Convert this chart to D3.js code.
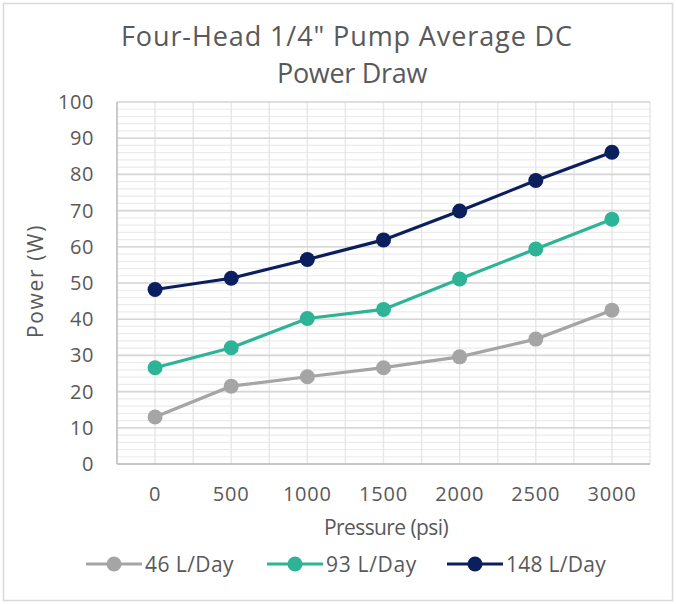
<!DOCTYPE html>
<html>
<head>
<meta charset="utf-8">
<script src="https://cdn.jsdelivr.net/npm/d3@7"></script>
<style>
  body { margin: 0; background: #fff; }
  text { font-family: "Open Sans", "Noto Sans", sans-serif; fill: #595959; }
</style>
</head>
<body>
<script>
// data
var pressures = ['0', '500', '1000', '1500', '2000', '2500', '3000'];
var seriesNames = ['46 L/Day', '93 L/Day', '148 L/Day'];
var seriesColors = ['#a5a5a5', '#2db395', '#0b1f5e'];
var flow46 = [13.0, 21.5, 24.1, 26.6, 29.6, 34.5, 42.5];
var flow93 = [26.6, 32.1, 40.2, 42.7, 51.1, 59.4, 67.6];
var flow148 = [48.2, 51.3, 56.5, 61.9, 69.9, 78.3, 86.1];
var yTicks = [0, 10, 20, 30, 40, 50, 60, 70, 80, 90, 100];

var allSeries = [flow46, flow93, flow148];

var width = 676, height = 604;
var plotLeft = 117, plotRight = 650, plotTop = 102, plotBottom = 464;

var svg = d3.select('body').append('svg').attr('width', width).attr('height', height);

// stretch letter spacing so a label spans roughly the same width as the original
function fit(sel, target) {
    var len = sel.node().getComputedTextLength();
    var n = sel.text().length;
    sel.style('letter-spacing', ((target - len) / n) + 'px');
}

svg.append('rect').attr('x', 3.5).attr('y', 3.5).attr('width', 669).attr('height', 597)
    .attr('fill', '#fff').attr('stroke', '#d9d9d9').attr('stroke-width', 1.5);

var x = d3.scaleBand().domain(pressures).range([plotLeft, plotRight]);
var y = d3.scaleLinear().domain([0, 100]).range([plotBottom, plotTop]);

// minor grid
var grid = svg.append('g');
grid.selectAll('.minor').data(d3.range(0, 101, 2)).enter().append('line')
    .attr('x1', plotLeft).attr('x2', plotRight)
    .attr('y1', function(d){ return y(d); }).attr('y2', function(d){ return y(d); })
    .attr('stroke', '#ebebeb').attr('stroke-width', 1.2);

// vertical grid at category centres and edges
var vlines = [];
pressures.forEach(function(p){ vlines.push(x(p)); vlines.push(x(p) + x.bandwidth()/2); });
vlines.push(plotRight);
grid.selectAll('.vert').data(vlines).enter().append('line')
    .attr('x1', function(d){ return d; }).attr('x2', function(d){ return d; })
    .attr('y1', plotTop).attr('y2', plotBottom)
    .attr('stroke', '#e6e6e6').attr('stroke-width', 1.4);

grid.selectAll('.major').data(yTicks).enter().append('line')
    .attr('x1', plotLeft).attr('x2', plotRight)
    .attr('y1', function(d){ return y(d); }).attr('y2', function(d){ return y(d); })
    .attr('stroke', '#d6d6d6').attr('stroke-width', 1.6);

// axis lines
svg.append('line').attr('x1', plotLeft).attr('x2', plotLeft).attr('y1', plotTop).attr('y2', plotBottom)
    .attr('stroke', '#bfbfbf').attr('stroke-width', 1.5);
svg.append('line').attr('x1', plotLeft).attr('x2', plotRight).attr('y1', plotBottom).attr('y2', plotBottom)
    .attr('stroke', '#bfbfbf').attr('stroke-width', 1.5);

// axes
var yAxis = svg.append('g').attr('transform', 'translate(' + (plotLeft - 23) + ',0)')
    .call(d3.axisLeft(y).tickValues(yTicks).tickSize(0).tickPadding(0));
yAxis.select('.domain').remove();
yAxis.selectAll('text').style('font-size', '20px').style('letter-spacing', '0.6px').attr('fill', '#595959');

var xAxis = svg.append('g').attr('transform', 'translate(0,' + (plotBottom + 23) + ')')
    .call(d3.axisBottom(x).tickSize(0).tickPadding(0));
xAxis.select('.domain').remove();
xAxis.selectAll('text').style('font-size', '20px').style('letter-spacing', '0.8px').attr('fill', '#595959');

// lines and markers
var line = d3.line()
    .x(function(d, i){ return x(pressures[i]) + x.bandwidth()/2; })
    .y(function(d){ return y(d); });

allSeries.forEach(function(vals, s){
    svg.append('path').datum(vals).attr('d', line)
        .attr('fill', 'none').attr('stroke', seriesColors[s]).attr('stroke-width', 3.2);
    svg.selectAll('.dot' + s).data(vals).enter().append('circle')
        .attr('cx', function(d, i){ return x(pressures[i]) + x.bandwidth()/2; })
        .attr('cy', function(d){ return y(d); })
        .attr('r', 7.5).attr('fill', seriesColors[s]);
});

// titles
var t1 = svg.append('text').text('Four-Head 1/4" Pump Average DC')
    .attr('x', 347).attr('y', 46).attr('text-anchor', 'middle').style('font-size', '27px');
fit(t1, 452);
var t2 = svg.append('text').text('Power Draw')
    .attr('x', 352).attr('y', 83).attr('text-anchor', 'middle').style('font-size', '27px');
fit(t2, 150);

var xt = svg.append('text').text('Pressure (psi)')
    .attr('x', 386).attr('y', 535).attr('text-anchor', 'middle').style('font-size', '21px');
fit(xt, 124);
var yt = svg.append('text').text('Power (W)')
    .attr('transform', 'translate(43,281) rotate(-90)').attr('text-anchor', 'middle').style('font-size', '21px');
fit(yt, 114);

// legend
var legendX = [86, 267, 447];
var legendW = [89, 91, 100];
var legend = svg.append('g');
seriesNames.forEach(function(name, s){
    var g = legend.append('g').attr('transform', 'translate(' + legendX[s] + ',564)');
    g.append('line').attr('x1', 0).attr('x2', 56).attr('y1', 0).attr('y2', 0)
        .attr('stroke', seriesColors[s]).attr('stroke-width', 3.2);
    g.append('circle').attr('cx', 28).attr('cy', 0).attr('r', 7.5).attr('fill', seriesColors[s]);
    var lt = g.append('text').text(name).attr('x', 59).attr('y', 7.5).style('font-size', '21px');
    fit(lt, legendW[s]);
});
</script>
</body>
</html>
